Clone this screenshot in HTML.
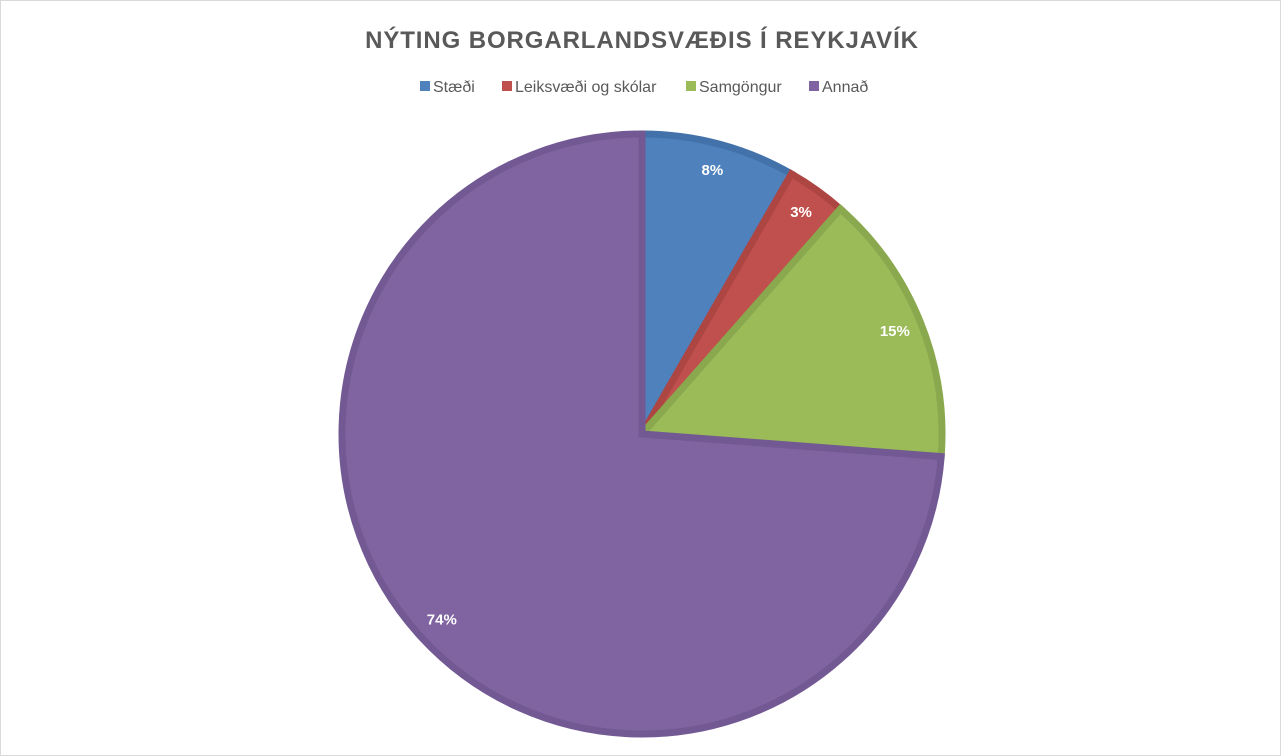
<!DOCTYPE html>
<html><head><meta charset="utf-8"><style>
body{margin:0;background:#fff;}
#wrap{position:relative;width:1281px;height:756px;overflow:hidden;background:#fff;border:1px solid #d9d9d9;box-sizing:border-box;font-family:"Liberation Sans",sans-serif;}
</style></head><body>
<div id="wrap">
<svg id="chart" width="1281" height="756">
<text x="641" y="47" text-anchor="middle" font-family="Liberation Sans, sans-serif" font-weight="bold" font-size="24" letter-spacing="0.9" fill="#595959">NÝTING BORGARLANDSVÆÐIS Í REYKJAVÍK</text>
<g id="legend"></g>
<g id="slices"></g>
<g id="labels"></g>
</svg>
</div>
<script>
const categories=["Stæði","Leiksvæði og skólar","Samgöngur","Annað"];
const values=[8.3,3.2,14.7,73.8];
const valueLabels=["8%","3%","15%","74%"];
const fills=["#4f81bd","#c0504d","#9bbb59","#8064a2"];
const strokes=["#4372ab","#ad4643","#8aa84e","#725993"];
const NS="http://www.w3.org/2000/svg";
const cx=641,cy=433,r=300;
const total=values.reduce((a,b)=>a+b,0);
const sl=document.getElementById('slices'),lb=document.getElementById('labels'),lg=document.getElementById('legend');
function pt(a,rr){return [cx+rr*Math.sin(a),cy-rr*Math.cos(a)];}
let acc=0;
values.forEach((v,i)=>{
  const a0=acc/total*2*Math.PI; acc+=v; const a1=acc/total*2*Math.PI;
  const p0=pt(a0,r),p1=pt(a1,r),large=(a1-a0)>Math.PI?1:0;
  const p=document.createElementNS(NS,'path');
  p.setAttribute('d',`M${cx},${cy}L${p0[0]},${p0[1]}A${r},${r} 0 ${large} 1 ${p1[0]},${p1[1]}Z`);
  p.setAttribute('fill',fills[i]);p.setAttribute('stroke',strokes[i]);p.setAttribute('stroke-width','7');p.setAttribute('stroke-linejoin','miter');
  
  
  sl.appendChild(p);
  const am=(a0+a1)/2; const lr=r*0.91;
  const lp=pt(am,lr);
  const t=document.createElementNS(NS,'text');
  t.setAttribute('x',lp[0]);t.setAttribute('y',lp[1]+5);t.setAttribute('text-anchor','middle');
  t.setAttribute('font-size','15');t.setAttribute('font-weight','bold');t.setAttribute('fill','#fff');
  t.setAttribute('font-family','Liberation Sans, sans-serif');
  t.textContent=valueLabels[i];
  
  
  lb.appendChild(t);
});
const lx=[419,501,685,808];
categories.forEach((c,i)=>{
  const g=document.createElementNS(NS,'g');
  
  
  const rc=document.createElementNS(NS,'rect');
  rc.setAttribute('x',lx[i]);rc.setAttribute('y',80);rc.setAttribute('width',10);rc.setAttribute('height',10);rc.setAttribute('fill',fills[i]);
  g.appendChild(rc);
  const t=document.createElementNS(NS,'text');
  t.setAttribute('x',lx[i]+13);t.setAttribute('y',91);t.setAttribute('font-size','16');t.setAttribute('fill','#595959');
  t.setAttribute('font-family','Liberation Sans, sans-serif');
  t.textContent=c;g.appendChild(t);
  lg.appendChild(g);
});
</script>
</body></html>
